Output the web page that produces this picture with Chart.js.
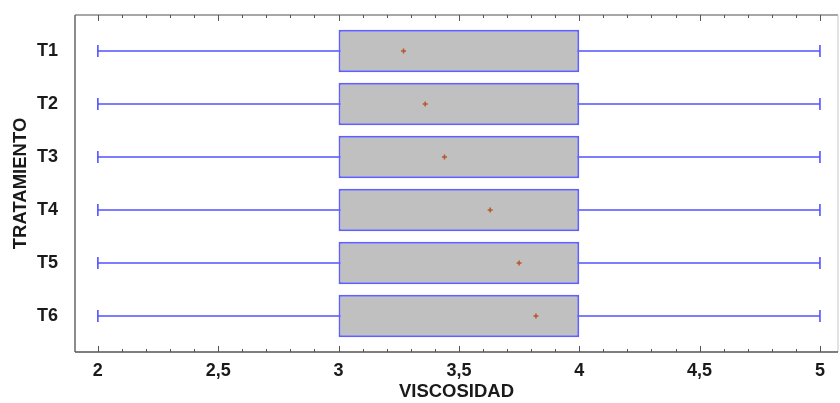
<!DOCTYPE html>
<html>
<head>
<meta charset="utf-8">
<script src="https://cdn.jsdelivr.net/npm/chart.js@4/dist/chart.umd.min.js"></script>
<style>
  html, body { margin: 0; padding: 0; background: #ffffff; }
  #wrap { width: 840px; height: 403px; }
</style>
</head>
<body>
<div id="wrap"><canvas id="c" width="840" height="403"></canvas></div>
<script>
// ---- data ----
const categories = ['T1', 'T2', 'T3', 'T4', 'T5', 'T6'];
const minimums   = [2, 2, 2, 2, 2, 2];
const lowerQuart = [3, 3, 3, 3, 3, 3];
const upperQuart = [4, 4, 4, 4, 4, 4];
const maximums   = [5, 5, 5, 5, 5, 5];
const means      = [3.27, 3.36, 3.44, 3.63, 3.75, 3.82];
const xMajorTickValues = [2, 2.5, 3, 3.5, 4, 4.5, 5];
const xMajorTickLabels = ['2', '2,5', '3', '3,5', '4', '4,5', '5'];
const xMinorStep = 0.1;

const FONT = "'Liberation Sans', Arial, sans-serif";
const BLUE = '#5252ff';

const whiskerSets = categories.map((c, i) => ({
  type: 'line',
  label: 'whisker ' + c,
  data: [{ x: minimums[i], y: i + 1 }, { x: maximums[i], y: i + 1 }],
  borderColor: BLUE,
  borderWidth: 1.6,
  pointStyle: 'line',
  rotation: 90,
  pointRadius: 6,
  pointBorderColor: BLUE,
  pointBorderWidth: 1.6,
  pointHoverRadius: 6,
  fill: false,
  order: 3
}));

const boxSet = {
  type: 'bar',
  label: 'box',
  data: categories.map((c, i) => ({ x: [lowerQuart[i], upperQuart[i]], y: i + 1 })),
  backgroundColor: '#c0c0c0',
  borderColor: '#6060ff',
  borderWidth: 2,
  borderSkipped: false,
  categoryPercentage: 1,
  barPercentage: 0.8,
  order: 2
};

const meanSet = {
  type: 'scatter',
  label: 'media',
  data: categories.map((c, i) => ({ x: means[i], y: i + 1 })),
  pointStyle: 'cross',
  pointRadius: 2.5,
  pointBorderColor: '#b8562a',
  pointBorderWidth: 1.5,
  showLine: false,
  order: 1
};

const frameAndTicks = {
  id: 'frameAndTicks',
  afterDraw(chart) {
    const { ctx, chartArea: a } = chart;
    const xs = chart.scales.x;
    ctx.save();
    const line = (x1, y1, x2, y2, col, w) => {
      ctx.beginPath(); ctx.strokeStyle = col; ctx.lineWidth = w;
      ctx.moveTo(x1, y1); ctx.lineTo(x2, y2); ctx.stroke();
    };
    line(a.left, a.top, a.right, a.top, '#8a8a8a', 1.5);
    line(a.right, a.top, a.right, a.bottom, '#c8c8c8', 1);
    line(a.left, a.top, a.left, a.bottom, '#666666', 1.5);
    line(a.left, a.bottom, a.right, a.bottom, '#555555', 1.5);
    xs.ticks.forEach(t => {
      const px = Math.round(xs.getPixelForValue(t.value)) + 0.5;
      const major = Math.abs(t.value * 2 - Math.round(t.value * 2)) < 1e-6;
      const len = major ? 6 : 3;
      line(px, a.top, px, a.top + len, '#555555', 1);
      line(px, a.bottom, px, a.bottom - len, '#555555', 1);
    });
    ctx.restore();
  }
};

new Chart(document.getElementById('c'), {
  data: { datasets: [meanSet, boxSet, ...whiskerSets] },
  options: {
    responsive: false,
    animation: false,
    indexAxis: 'y',
    layout: { autoPadding: false, padding: { top: 15, right: 2, left: 0, bottom: 0 } },
    plugins: { legend: { display: false }, tooltip: { enabled: false } },
    scales: {
      x: {
        type: 'linear',
        position: 'bottom',
        offset: false,
        min: 1.905,
        max: 5.075,
        afterBuildTicks(scale) {
          const ticks = [];
          const first = xMajorTickValues[0], last = xMajorTickValues[xMajorTickValues.length - 1];
          const n = Math.round((last - first) / xMinorStep);
          for (let k = 0; k <= n; k++) ticks.push({ value: +(first + k * xMinorStep).toFixed(4) });
          scale.ticks = ticks;
        },
        afterFit(scale) {
          scale.height = 51;
          scale.paddingLeft = 0; scale.paddingRight = 0;
          scale.paddingTop = 0; scale.paddingBottom = 0;
        },
        grid: { display: false, drawTicks: false, offset: false },
        border: { display: false },
        ticks: {
          autoSkip: false,
          maxRotation: 0,
          padding: 8,
          color: '#1a1a1a',
          font: { family: FONT, size: 18, weight: 'bold' },
          callback(v) {
            const idx = xMajorTickValues.findIndex(m => Math.abs(m - v) < 1e-6);
            return idx >= 0 ? xMajorTickLabels[idx] : '';
          }
        },
        title: {
          display: true,
          text: 'VISCOSIDAD',
          color: '#1a1a1a',
          font: { family: FONT, size: 18.5, weight: 'bold' },
          padding: { top: 0, bottom: 0 }
        }
      },
      y: {
        type: 'linear',
        position: 'left',
        reverse: true,
        offset: false,
        min: 0.32,
        max: 6.68,
        afterBuildTicks(scale) {
          scale.ticks = categories.map((c, i) => ({ value: i + 1 }));
        },
        afterFit(scale) {
          scale.width = 75;
          scale.paddingLeft = 0; scale.paddingRight = 0;
          scale.paddingTop = 0; scale.paddingBottom = 0;
        },
        grid: { display: false, drawTicks: false, offset: false },
        border: { display: false },
        ticks: {
          autoSkip: false,
          padding: 17,
          color: '#1a1a1a',
          font: { family: FONT, size: 18, weight: 'bold' },
          callback(v) { return categories[Math.round(v) - 1] || ''; }
        },
        title: {
          display: true,
          text: 'TRATAMIENTO',
          color: '#1a1a1a',
          font: { family: FONT, size: 18.5, weight: 'bold' },
          padding: { top: 10, bottom: 0 }
        }
      }
    }
  },
  plugins: [frameAndTicks]
});
</script>
</body>
</html>
